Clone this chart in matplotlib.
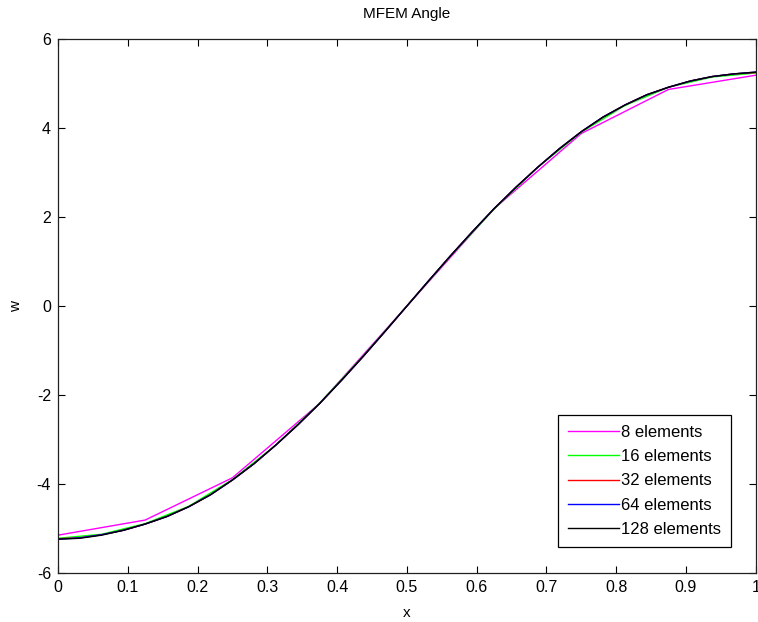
import numpy as np
import matplotlib
matplotlib.use("Agg")
import matplotlib.pyplot as plt

# values
x_8 = np.linspace(0, 1, 9)
w_8 = [-5.15, -4.81, -3.86, -2.19, 0.0, 2.19, 3.88, 4.87, 5.19]

x_16 = np.linspace(0, 1, 17)
w_16 = [-5.22, -5.13, -4.89, -4.50, -3.90, -3.12, -2.18, -1.12, 0.0,
        1.12, 2.18, 3.12, 3.91, 4.51, 4.92, 5.15, 5.24]

x_fine = np.linspace(0, 1, 33)
w_32 = [-5.23, -5.21, -5.14, -5.04, -4.90, -4.73, -4.51, -4.24, -3.91,
        -3.54, -3.12, -2.67, -2.19, -1.67, -1.13, -0.57, 0.0,
        0.57, 1.13, 1.67, 2.19, 2.67, 3.12, 3.54, 3.92,
        4.25, 4.52, 4.75, 4.92, 5.06, 5.16, 5.22, 5.25]
w_64 = [-5.24, -5.21, -5.14, -5.04, -4.90, -4.73, -4.51, -4.24, -3.91,
        -3.54, -3.12, -2.67, -2.19, -1.67, -1.13, -0.57, 0.0,
        0.57, 1.13, 1.67, 2.19, 2.67, 3.12, 3.54, 3.92,
        4.25, 4.52, 4.75, 4.92, 5.06, 5.16, 5.22, 5.26]
w_128 = [-5.24, -5.22, -5.15, -5.04, -4.90, -4.73, -4.51, -4.24, -3.91,
         -3.54, -3.12, -2.67, -2.19, -1.67, -1.13, -0.57, 0.0,
         0.57, 1.13, 1.67, 2.19, 2.67, 3.12, 3.54, 3.92,
         4.25, 4.52, 4.75, 4.92, 5.06, 5.16, 5.22, 5.26]

labels = ["8 elements", "16 elements", "32 elements", "64 elements", "128 elements"]
colors = ["#ff00ff", "#00ff00", "#ff0000", "#0000ff", "#000000"]

plt.rcParams['font.family'] = ['Liberation Sans', 'DejaVu Sans']
plt.rcParams['axes.unicode_minus'] = False

fig = plt.figure(figsize=(7.58, 6.22), dpi=100)
ax = fig.add_axes([0.0765, 0.0788, 0.9205, 0.8582])

series = [(x_8, w_8), (x_16, w_16), (x_fine, w_32), (x_fine, w_64), (x_fine, w_128)]
for (xs, ws), lab, c in zip(series, labels, colors):
    ax.plot(xs, ws, color=c, lw=1.0, label=lab)

ax.set_xlim(0, 1)
ax.set_ylim(-6, 6)
ax.set_xticks(np.arange(0, 1.01, 0.1))
ax.set_xticklabels(["0", "0.1", "0.2", "0.3", "0.4", "0.5", "0.6", "0.7", "0.8", "0.9", "1"])
ax.set_yticks(np.arange(-6, 7, 2))
ax.tick_params(direction='in', top=True, right=True, length=5, width=0.8,
               labelsize=11.5, pad=5)
for s in ax.spines.values():
    s.set_color('#202020')
    s.set_linewidth(0.9)

ax.set_title("MFEM Angle", fontsize=11, pad=15)
ax.set_xlabel("x", fontsize=11, labelpad=8)
ax.set_ylabel("w", fontsize=11, labelpad=10)

leg = ax.legend(loc='lower right', bbox_to_anchor=(0.964, 0.049), borderaxespad=0,
                fancybox=False, framealpha=1, edgecolor='black', fontsize=12,
                handlelength=3.05, handletextpad=0.1, labelspacing=0.55,
                borderpad=0.6)
leg.get_frame().set_linewidth(0.9)

fig.savefig("out.png", dpi=100)
